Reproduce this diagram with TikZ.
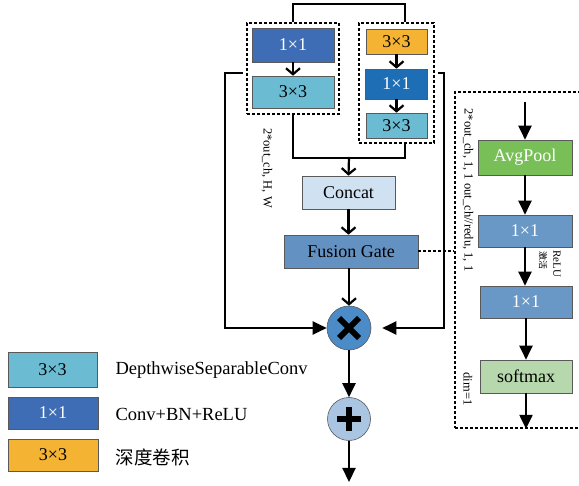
\documentclass[tikz,border=0pt]{standalone}
\usepackage{fontspec}
\setmainfont{Liberation Serif}
\newfontfamily\cjk{Noto Sans CJK SC}
\usetikzlibrary{arrows.meta,calc}
\definecolor{dblue}{HTML}{3F6DB5}
\definecolor{mblue}{HTML}{1E6EB5}
\definecolor{lblue}{HTML}{6BBCD2}
\definecolor{orng}{HTML}{F4B332}
\definecolor{concatc}{HTML}{D0E2F1}
\definecolor{fusec}{HTML}{6391C1}
\definecolor{sblue}{HTML}{6A98C6}
\definecolor{greenc}{HTML}{78BF58}
\definecolor{softc}{HTML}{B6D8AC}
\definecolor{mulc}{HTML}{4B8CC8}
\definecolor{addc}{HTML}{A9C5E1}
\begin{document}
\begin{tikzpicture}[x=1pt,y=-1pt,
  box/.style={draw=gray!70!black, line width=0.6pt, inner sep=0pt, font=\fontsize{18}{18}\selectfont},
  dbox/.style={draw=black, line width=1.7pt, dash pattern=on 3pt off 2pt, inner sep=0pt},
  conn/.style={line width=2.2pt},
  oarr/.style={conn, -{Straight Barb[length=6pt,width=14pt]}},
  farr/.style={conn, -{Triangle[length=14pt,width=13pt]}},
  rlab/.style={rotate=-90, font=\fontsize{12.5}{14}\selectfont},
  legtext/.style={anchor=west, font=\fontsize{18.5}{20}\selectfont}]
\useasboundingbox (0,0) rectangle (579,486);

% left branch
\node[dbox, minimum width=92, minimum height=91] (lbox) at (293,68.5) {};
\node[box, fill=dblue, text=white, minimum width=82, minimum height=34] (l1) at (293,45) {1×1};
\node[box, fill=lblue, minimum width=82, minimum height=32] (l2) at (293,92) {3×3};
\draw[oarr] (l1) -- (l2);

% right branch
\node[dbox, minimum width=75, minimum height=120] (rbox) at (396.5,83) {};
\node[box, fill=orng, minimum width=61, minimum height=25] (r1) at (396.5,41.5) {3×3};
\node[box, fill=mblue, text=white, minimum width=62, minimum height=30] (r2) at (396.5,84) {1×1};
\node[box, fill=lblue, minimum width=61, minimum height=25] (r3) at (396.5,125.5) {3×3};
\draw[oarr] (r1) -- (r2);
\draw[oarr] (r2) -- (r3);

% top connection
\draw[conn] (lbox.north) -- ++(0,-18) -| ($(rbox.north)+(8.5,0)$);
% bottom merge
\coordinate (merge) at (349,157);
\draw[conn] (lbox.south) |- ($(rbox.south)+(8.5,14)$) -- ($(rbox.south)+(8.5,0)$);

\node[box, fill=concatc, minimum width=93, minimum height=33] (concat) at (348.5,192.5) {Concat};
\node[box, fill=fusec, minimum width=134, minimum height=33] (fusion) at (351,251.5) {Fusion Gate};
\draw[oarr] (merge) -- (concat.north);
\draw[oarr] (concat.south) -- (concat.south |- fusion.north);

\node[rlab] (lab1) at (267,168) {2*out\_ch, H, W};

% multiply and add
\node[circle, draw=gray!70!black, line width=0.6pt, fill=mulc, minimum size=44, inner sep=0pt] (mul) at (349,328) {};
\draw[line width=6pt] ($(mul)+(-10,-10)$) -- ($(mul)+(10,10)$);
\draw[line width=6pt] ($(mul)+(-10,10)$) -- ($(mul)+(10,-10)$);
\node[circle, draw=gray!70!black, line width=0.6pt, fill=addc, minimum size=43, inner sep=0pt] (add) at (349,419) {};
\draw[line width=6pt] ($(add)+(-12,0)$) -- ($(add)+(12,0)$);
\draw[line width=6pt] ($(add)+(0,-12)$) -- ($(add)+(0,12)$);
\coordinate (out) at (349,482);

\draw[oarr] (fusion.south -| mul.north) -- (mul.north);
\draw[farr] (mul) -- (add);
\draw[farr] (add.south) -- (out);

% skip connections
\coordinate (lsk) at (243,73);
\coordinate (rsk) at (438,73);
\draw[farr] (lsk) -- ++(-18,0) |- (mul.west);
\draw[farr, shorten >=11pt] (rsk) -- ++(6,0) |- (mul.east);

% right panel
\node[dbox, minimum width=145, minimum height=336] (rpanel) at (527.5,260) {};
\draw[dbox, line width=2pt] (fusion.east) -- (fusion.east -| rpanel.west);
\coordinate (ain) at (525,102);
\node[box, fill=greenc, text=white, minimum width=94, minimum height=35] (avg) at (525,157.5) {AvgPool};
\node[box, fill=sblue, text=white, minimum width=94, minimum height=32] (c1) at (525,231) {1×1};
\node[box, fill=sblue, text=white, minimum width=92, minimum height=32] (c2) at (526,302) {1×1};
\node[box, fill=softc, minimum width=92, minimum height=33] (soft) at (526,376.5) {softmax};
\draw[farr] (ain) -- (avg.north);
\draw[farr] (avg) -- (avg |- c1.north);
\draw[farr] (c1) -- (c1 |- c2.north);
\draw[farr] (c2) -- (c2 |- soft.north);
\draw[farr] (soft.south) -- (soft.south |- rpanel.south);

\node[rlab] (lab2) at (468,190) {2*out\_ch, 1, 1 out\_ch//redu, 1, 1};
\node[rlab] (lab3) at (468,389) {dim=1};
\node[rotate=-90, inner sep=0pt, font=\fontsize{11}{12}\selectfont] (lab4) at (557,264) {ReLU};
\node[rotate=-90, inner sep=0pt, font=\cjk\fontsize{9}{10}\selectfont] (lab5) at (543,261) {激活};

% legend
\node[box, fill=lblue, minimum width=89, minimum height=35] (g1) at (52.5,369.5) {3×3};
\node[box, fill=dblue, text=white, minimum width=90, minimum height=32] (g2) at (53,413) {1×1};
\node[box, fill=orng, minimum width=90, minimum height=32] (g3) at (53,455) {3×3};
\node[legtext] (t1) at (112,370) {DepthwiseSeparableConv};
\node[legtext] (t2) at (112,414) {Conv+BN+ReLU};
\node[legtext] (t3) at (112,457) {{\cjk 深度卷积}};
\end{tikzpicture}
\end{document}
